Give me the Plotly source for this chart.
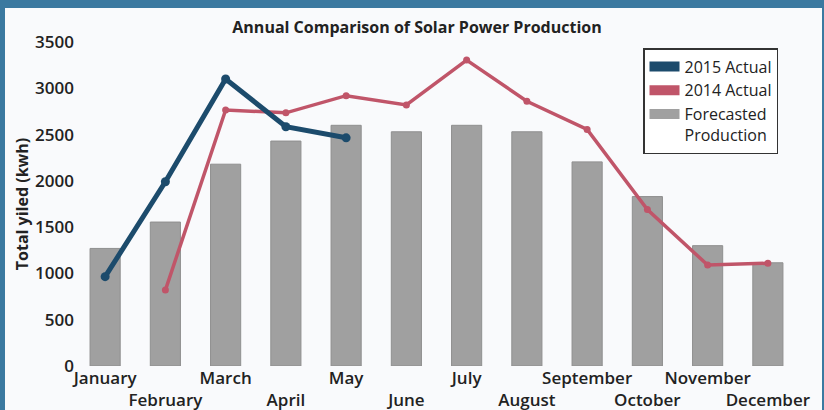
import plotly.graph_objects as go

months = ["January", "February", "March", "April", "May", "June", "July",
          "August", "September", "October", "November", "December"]
forecast = [1270, 1555, 2180, 2430, 2600, 2530, 2600, 2530, 2205, 1830, 1300, 1115]
actual_2015 = [965, 1990, 3100, 2585, 2465, None, None, None, None, None, None, None]
actual_2014 = [None, 820, 2765, 2735, 2920, 2820, 3305, 2860, 2555, 1690, 1090, 1110]
y_ticks = [0, 500, 1000, 1500, 2000, 2500, 3000, 3500]

tick_text = [m if i % 2 == 0 else "<br>" + m for i, m in enumerate(months)]

BLUE = "#1c4b6c"
RED = "#c05569"
GREY = "#a0a0a0"
FONT = "Open Sans"

W, H = 824, 410
L, R, T, B = 75, 26, 42, 44

fig = go.Figure()
fig.add_trace(go.Bar(x=months, y=forecast, marker=dict(color=GREY, line=dict(color="#8f8f8f", width=1)),
                     width=0.5, showlegend=False, name="Forecasted Production"))
fig.add_trace(go.Scatter(x=months, y=actual_2014, mode="lines+markers", line=dict(color=RED, width=3.5),
                         marker=dict(size=7, color=RED), showlegend=False, name="2014 Actual"))
fig.add_trace(go.Scatter(x=months, y=actual_2015, mode="lines+markers", line=dict(color=BLUE, width=5),
                         marker=dict(size=9, color=BLUE), showlegend=False, name="2015 Actual"))

# legend swatches
for name, col in [("2015 Actual", BLUE), ("2014 Actual", RED), ("Forecasted<br>Production", GREY)]:
    fig.add_trace(go.Scatter(x=[None], y=[None], mode="lines", name=name,
                             line=dict(color=col, width=10), showlegend=True))

px_x = lambda p: (p - L) / (W - L - R)
px_y = lambda p: (H - B - p) / (H - T - B)

fig.update_layout(
    width=W, height=H,
    margin=dict(l=L, r=R, t=T, b=B),
    paper_bgcolor="#3b79a0",
    plot_bgcolor="#f9fafc",
    barmode="overlay",
    font=dict(family=FONT, color="#222"),
    title=dict(text="Annual Comparison of Solar Power Production", x=px_x(417), xref="paper",
               xanchor="center", y=1 - 27 / H, yanchor="middle",
               font=dict(size=16, family=FONT, weight=700, color="#222")),
    legend=dict(x=px_x(643), y=px_y(48), xanchor="left", yanchor="top",
                bgcolor="#ffffff", bordercolor="#333333", borderwidth=1.5,
                font=dict(size=16, family=FONT, color="#222"), valign="top",
                itemwidth=30, tracegroupgap=0),
    shapes=[dict(type="rect", xref="paper", yref="paper", layer="below",
                 x0=px_x(5), x1=px_x(822), y0=px_y(412), y1=px_y(8),
                 fillcolor="#f9fafc", line=dict(width=0))],
)
fig.update_xaxes(tickmode="array", tickvals=months, ticktext=tick_text, showgrid=False,
                 range=[-0.5, len(months) - 0.5],
                 showline=False, zeroline=False, ticks="", tickangle=0, automargin=False,
                 tickfont=dict(size=17, family=FONT, weight=600, color="#222"))
fig.update_yaxes(range=[0, 3500], tickvals=y_ticks, showgrid=False, zeroline=False, showline=False,
                 ticks="", automargin=False,
                 tickfont=dict(size=17, family=FONT, weight=600, color="#222"),
                 title=dict(text="Total yiled (kwh)", standoff=2,
                            font=dict(size=16, family=FONT, weight=700, color="#222")))

fig.write_html("out.html", post_script="document.body.style.margin='0';",
               config={"displayModeBar": False})
